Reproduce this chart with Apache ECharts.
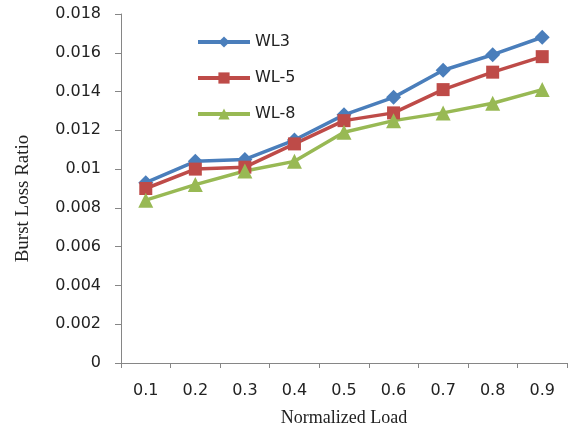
<!DOCTYPE html>
<html>
<head>
<meta charset="utf-8">
<script src="https://cdn.jsdelivr.net/npm/echarts@6/dist/echarts.min.js"></script>
<style>
  html, body { margin: 0; padding: 0; background: #fff; overflow: hidden; }
  #chart { width: 569px; height: 423px; }
</style>
</head>
<body>
<div id="chart"></div>
<script>
// Normalized load levels on the horizontal axis
const loads = ['0.1', '0.2', '0.3', '0.4', '0.5', '0.6', '0.7', '0.8', '0.9'];

// Burst loss ratio for each wavelength configuration
const wl3 = [0.0093, 0.0104, 0.0105, 0.0115, 0.0128, 0.0137, 0.0151, 0.0159, 0.0168];
const wl5 = [0.0090, 0.0100, 0.0101, 0.0113, 0.0125, 0.0129, 0.0141, 0.0150, 0.0158];
const wl8 = [0.0084, 0.0092, 0.0099, 0.0104, 0.0119, 0.0125, 0.0129, 0.0134, 0.0141];

const seriesNames = ['WL3', 'WL-5', 'WL-8'];
const seriesColors = ['#4A7EBB', '#BE4B48', '#98B954'];
const seriesSymbols = ['diamond', 'rect', 'triangle'];
const seriesSizes = [15, 13, 15];
const seriesData = [wl3, wl5, wl8];

const chart = echarts.init(document.getElementById('chart'), null, { width: 569, height: 423 });

const axisColor = '#868686';
const labelFont = 'DejaVu Sans, sans-serif';
const titleFont = 'Liberation Serif, serif';

chart.setOption({
  animation: false,
  backgroundColor: '#fff',
  grid: { left: 121, right: 2, top: 14, bottom: 60, outerBoundsMode: 'none', containLabel: false },
  legend: {
    orient: 'vertical',
    left: 191,
    top: 29,
    itemWidth: 52,
    itemHeight: 14,
    itemGap: 20,
    lineStyle: { width: 4 },
    textStyle: { fontFamily: labelFont, fontSize: 16, color: '#222' },
    data: seriesNames
  },
  xAxis: {
    type: 'category',
    data: loads,
    boundaryGap: true,
    name: 'Normalized Load',
    nameLocation: 'middle',
    nameGap: 46,
    nameTextStyle: { fontFamily: titleFont, fontSize: 18, color: '#222' },
    axisLine: { lineStyle: { color: axisColor, width: 1 } },
    axisTick: { show: true, alignWithLabel: false, length: 5, lineStyle: { color: axisColor } },
    axisLabel: { fontFamily: labelFont, fontSize: 16, color: '#222', margin: 20 },
    splitLine: { show: false }
  },
  yAxis: {
    type: 'value',
    min: 0,
    max: 0.018,
    interval: 0.002,
    name: 'Burst Loss Ratio',
    nameLocation: 'middle',
    nameGap: 88,
    nameRotate: 90,
    nameTextStyle: { fontFamily: titleFont, fontSize: 19, color: '#222', padding: [0, 0, 0, -20] },
    axisLine: { show: true, lineStyle: { color: axisColor, width: 1 } },
    axisTick: { show: true, length: 6, inside: false, lineStyle: { color: axisColor } },
    axisLabel: { fontFamily: labelFont, fontSize: 16, color: '#222', margin: 20 },
    splitLine: { show: false }
  },
  series: seriesData.map((d, i) => ({
    name: seriesNames[i],
    type: 'line',
    data: d,
    symbol: seriesSymbols[i],
    symbolSize: seriesSizes[i],
    showSymbol: true,
    lineStyle: { color: seriesColors[i], width: 3.5 },
    itemStyle: { color: seriesColors[i] }
  }))
});
</script>
</body>
</html>
